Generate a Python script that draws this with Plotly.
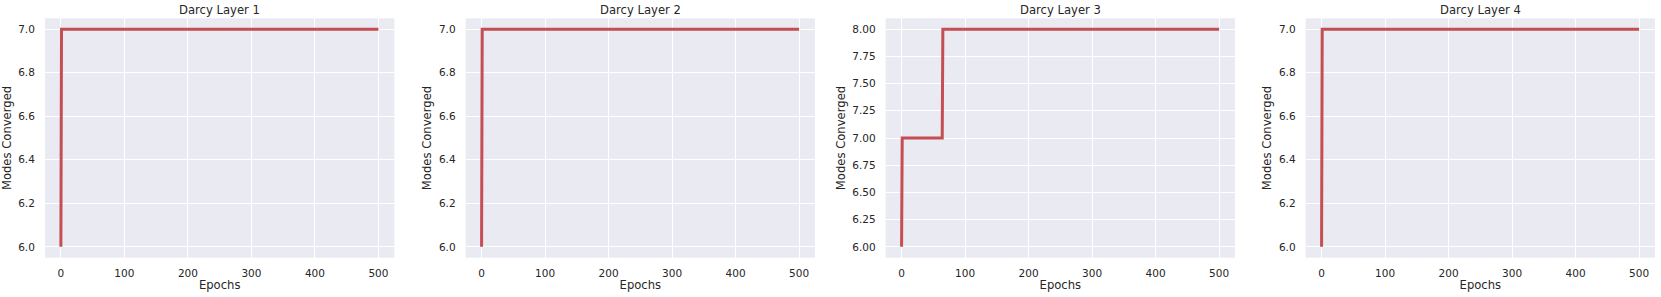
import plotly.graph_objects as go

titles = ["Darcy Layer 1", "Darcy Layer 2", "Darcy Layer 3", "Darcy Layer 4"]

layer1_epochs = [0, 1, 500]
layer1_modes = [6, 7, 7]
layer2_epochs = [0, 1, 500]
layer2_modes = [6, 7, 7]
layer3_epochs = [0, 1, 64, 65, 500]
layer3_modes = [6, 7, 7, 8, 8]
layer4_epochs = [0, 1, 500]
layer4_modes = [6, 7, 7]

x_ticks = [0, 100, 200, 300, 400, 500]
y_ticks_a = [6.0, 6.2, 6.4, 6.6, 6.8, 7.0]
y_ticks_b = [6.0, 6.25, 6.5, 6.75, 7.0, 7.25, 7.5, 7.75, 8.0]

series = [
    (layer1_epochs, layer1_modes, y_ticks_a, "{:.1f}"),
    (layer2_epochs, layer2_modes, y_ticks_a, "{:.1f}"),
    (layer3_epochs, layer3_modes, y_ticks_b, "{:.2f}"),
    (layer4_epochs, layer4_modes, y_ticks_a, "{:.1f}"),
]

W, H = 1661, 297
lefts = [45.0, 465.7, 885.7, 1305.7]
pw = 349.3
ytop, ybot = 18.3, 257.7

TXT = "#262626"
FONT = "DejaVu Sans"
fig = go.Figure()
layout = dict(
    width=W, height=H,
    margin=dict(l=0, r=0, t=0, b=0),
    paper_bgcolor="white",
    plot_bgcolor="#EAEAF2",
    showlegend=False,
    font=dict(family=FONT, color=TXT, size=10),
    annotations=[],
)

for i, (xs, ys, yt, fmt) in enumerate(series):
    n = "" if i == 0 else str(i + 1)
    fig.add_trace(go.Scatter(
        x=xs, y=ys, mode="lines",
        line=dict(color="#C44E52", width=3),
        xaxis="x" + n, yaxis="y" + n,
    ))
    x0 = lefts[i] / W
    x1 = (lefts[i] + pw) / W
    ymin, ymax = min(yt), max(yt)
    pad = (ymax - ymin) * 0.05
    layout["xaxis" + n] = dict(
        domain=[x0, x1], anchor="y" + n,
        range=[-25, 525],
        tickvals=x_ticks, ticktext=[str(v) for v in x_ticks],
        showgrid=True, gridcolor="white", gridwidth=1,
        zeroline=False, showline=False,
        ticks="outside", ticklen=6, tickcolor="rgba(0,0,0,0)",
        tickfont=dict(size=10.5, color=TXT, family=FONT),
        title=dict(text="Epochs", font=dict(size=11.6, color=TXT, family=FONT), standoff=2),
        automargin=False,
    )
    layout["yaxis" + n] = dict(
        domain=[(H - ybot) / H, (H - ytop) / H], anchor="x" + n,
        range=[ymin - pad, ymax + pad],
        tickvals=yt, ticktext=[fmt.format(v) for v in yt],
        showgrid=True, gridcolor="white", gridwidth=1,
        zeroline=False, showline=False,
        ticks="outside", ticklen=7, tickcolor="rgba(0,0,0,0)",
        tickfont=dict(size=10.5, color=TXT, family=FONT),
        title=dict(text="Modes Converged", font=dict(size=11.6, color=TXT, family=FONT), standoff=4),
        automargin=False,
    )
    layout["annotations"].append(dict(
        text=titles[i], xref="paper", yref="paper",
        x=(x0 + x1) / 2, y=(H - 10) / H,
        xanchor="center", yanchor="middle", showarrow=False,
        font=dict(size=11.6, color=TXT, family=FONT),
    ))

fig.update_layout(**layout)
fig.write_html(
    "out.html",
    config={"displayModeBar": False},
    post_script="document.body.style.margin='0';document.body.style.overflow='hidden';",
)
